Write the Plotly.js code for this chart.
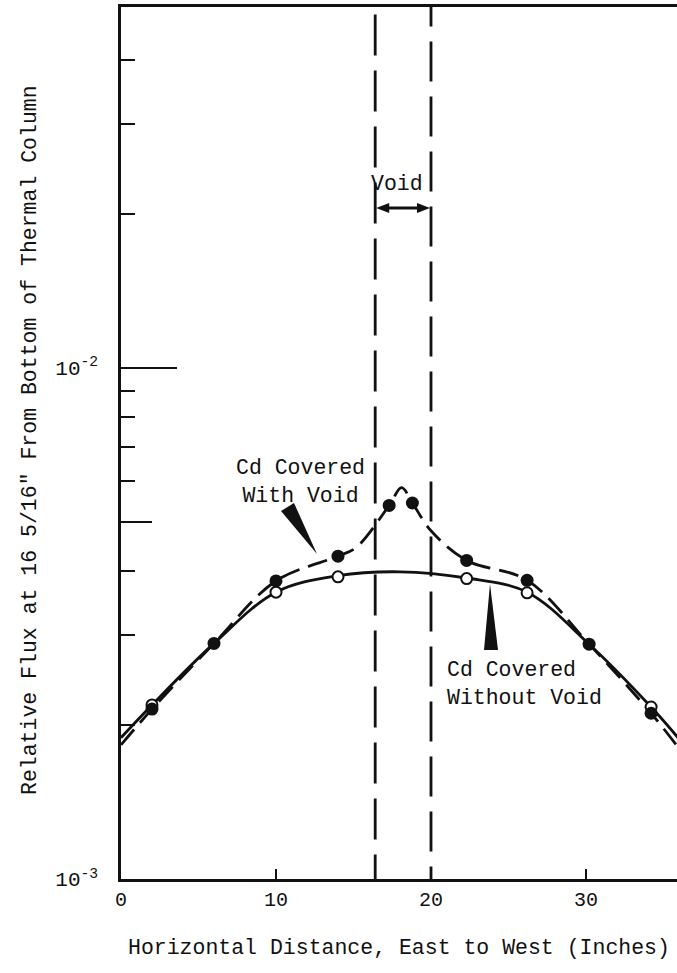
<!DOCTYPE html>
<html>
<head>
<meta charset="utf-8">
<script src="https://cdn.plot.ly/plotly-3.0.1.min.js"></script>
<style>html,body{margin:0;padding:0;background:#fff}</style>
</head>
<body>
<div id="chart" style="width:677px;height:973px"></div>
<script>
// Measured relative flux, Cd covered, with the void in place
const xWithVoid = [2, 6, 10, 14, 17.3, 18.8, 22.3, 26.2, 30.2, 34.2];
const fluxWithVoid = [2.15e-3, 2.89e-3, 3.83e-3, 4.28e-3, 5.38e-3, 5.44e-3, 4.20e-3, 3.84e-3, 2.88e-3, 2.11e-3];
// Measured relative flux, Cd covered, without the void
const xWithoutVoid = [2, 10, 14, 22.3, 26.2, 34.2];
const fluxWithoutVoid = [2.19e-3, 3.64e-3, 3.90e-3, 3.87e-3, 3.63e-3, 2.17e-3];
// Faired curves drawn through the measurements
const curveWithVoidX = [0, 2, 6, 10, 14, 15.2, 17.3, 18.1, 18.8, 20, 22.3, 26.2, 30.2, 34.2, 36];
const curveWithVoidY = [1.83e-3, 2.15e-3, 2.89e-3, 3.83e-3, 4.28e-3, 4.46e-3, 5.38e-3, 5.83e-3, 5.44e-3, 4.8e-3, 4.20e-3, 3.84e-3, 2.88e-3, 2.11e-3, 1.8e-3];
const curveWithoutVoidX = [0, 2, 6, 10, 14, 18, 22.3, 26.2, 30.2, 34.2, 36];
const curveWithoutVoidY = [1.89e-3, 2.19e-3, 2.89e-3, 3.64e-3, 3.92e-3, 3.99e-3, 3.88e-3, 3.64e-3, 2.88e-3, 2.17e-3, 1.88e-3];
// Edges of the void (inches)
const voidEdges = [16.4, 20.0];
// Axis ticks
const xTicks = [0, 10, 20, 30];
const xTickText = ['0', '10', '20', '30'];
const yMajor = [1e-3, 1e-2];
const yMajorText = ['10<sup>-3</sup>', '10<sup>-2</sup>'];
const yMinor = [2e-3, 3e-3, 4e-3, 6e-3, 7e-3, 8e-3, 9e-3, 2e-2, 3e-2, 4e-2];
const yHalf = [5e-3];

const INK = '#111';
const FONT = 'Liberation Mono, Courier New, monospace';

// plot area in page pixels
const L = 121, R = 677, T = 7, B = 879;
const px = v => (v - L) / (R - L);
const py = v => (B - v) / (B - T);
const yTop = -2 + (367.7 - T) / 511;

// dash list for a line drawn top-down: leading dash/gap, then a repeating dash/gap
function dashList(lead, leadGap, dash, gap) {
  const parts = [lead + 'px', leadGap + 'px'];
  let run = lead + leadGap;
  while (run < (B - T) + dash + gap) { parts.push(dash + 'px', gap + 'px'); run += dash + gap; }
  return parts.join(',');
}
const voidDash = [dashList(0, 7.5, 41, 15), dashList(19.5, 15, 40, 15)];

const traces = [
  {x: curveWithVoidX, y: curveWithVoidY, type: 'scatter', mode: 'lines',
   line: {color: INK, width: 2.8, dash: '20px,9px', shape: 'spline', smoothing: 1}, hoverinfo: 'skip'},
  {x: curveWithoutVoidX, y: curveWithoutVoidY, type: 'scatter', mode: 'lines',
   line: {color: INK, width: 2.8, shape: 'spline', smoothing: 1}, hoverinfo: 'skip'},
  {x: xWithoutVoid, y: fluxWithoutVoid, type: 'scatter', mode: 'markers',
   marker: {size: 11, color: '#fff', line: {color: INK, width: 2}}},
  {x: xWithVoid, y: fluxWithVoid, type: 'scatter', mode: 'markers',
   marker: {size: 13, color: INK, line: {color: INK, width: 0}}},
  // carries the medium tick at 5e-3
  {x: [null], y: [null], yaxis: 'y2', type: 'scatter', hoverinfo: 'skip'}
];

const shapes = voidEdges.map((e, i) => ({
  type: 'line', xref: 'x', yref: 'paper', x0: e, x1: e, y0: 1, y1: 0,
  line: {color: INK, width: 2.8, dash: voidDash[i]}
}));
// double-headed arrow spanning the void
const xl = L + voidEdges[0] * 15.5 + 1, xr = L + voidEdges[1] * 15.5 - 1, ya = 208;
shapes.push({type: 'line', xref: 'paper', yref: 'paper', x0: px(xl + 6), x1: px(xr - 6), y0: py(ya), y1: py(ya),
  line: {color: INK, width: 2.8}});
shapes.push({type: 'path', xref: 'paper', yref: 'paper',
  path: `M ${px(xl)},${py(ya)} L ${px(xl + 13)},${py(ya - 5)} L ${px(xl + 13)},${py(ya + 5)} Z`,
  fillcolor: INK, line: {width: 0}});
shapes.push({type: 'path', xref: 'paper', yref: 'paper',
  path: `M ${px(xr)},${py(ya)} L ${px(xr - 13)},${py(ya - 5)} L ${px(xr - 13)},${py(ya + 5)} Z`,
  fillcolor: INK, line: {width: 0}});
// pointer wedges from the labels to the curves
shapes.push({type: 'path', xref: 'paper', yref: 'paper',
  path: `M ${px(281)},${py(511)} L ${px(294)},${py(503)} L ${px(317)},${py(554)} Z`,
  fillcolor: INK, line: {width: 0}});
shapes.push({type: 'path', xref: 'paper', yref: 'paper',
  path: `M ${px(484)},${py(650)} L ${px(498)},${py(650)} L ${px(490)},${py(584)} Z`,
  fillcolor: INK, line: {width: 0}});

const LABEL = {size: 21.5, color: INK, family: FONT};
const annotations = [
  {text: 'Void', x: px(397), y: py(184), xref: 'paper', yref: 'paper', xanchor: 'center', yanchor: 'middle',
   showarrow: false, font: LABEL},
  {text: 'Cd Covered<br>With Void', x: px(300), y: py(482), xref: 'paper', yref: 'paper',
   xanchor: 'center', yanchor: 'middle', showarrow: false, align: 'center', font: LABEL},
  {text: 'Cd Covered<br>Without Void', x: px(445), y: py(684), xref: 'paper', yref: 'paper',
   xanchor: 'left', yanchor: 'middle', showarrow: false, align: 'left', font: LABEL},
  {text: 'Relative Flux at 16 5/16" From Bottom of Thermal Column', textangle: -90,
   x: px(30), y: py(440), xref: 'paper', yref: 'paper', xanchor: 'center', yanchor: 'middle',
   showarrow: false, font: LABEL},
  {text: 'Horizontal Distance, East to West (Inches)',
   x: px(399), y: py(948), xref: 'paper', yref: 'paper', xanchor: 'center', yanchor: 'middle',
   showarrow: false, font: LABEL}
];

const layout = {
  width: 677, height: 973,
  margin: {l: L, r: 677 - R, t: T, b: 973 - B, pad: 0},
  paper_bgcolor: '#fff', plot_bgcolor: '#fff',
  showlegend: false,
  font: {family: FONT, color: INK, size: 19},
  xaxis: {range: [0, (R - L) / 15.5], showgrid: false, zeroline: false,
    showline: true, linecolor: INK, linewidth: 2.6, mirror: true,
    tickmode: 'array', tickvals: xTicks, ticktext: xTickText,
    ticks: 'inside', ticklen: 10, tickwidth: 2, tickcolor: INK,
    tickfont: {size: 20, family: FONT, color: INK}},
  yaxis: {type: 'log', range: [-3, yTop], showgrid: false, zeroline: false,
    showline: true, linecolor: INK, linewidth: 2.6,
    tickmode: 'array', tickvals: yMajor, ticktext: yMajorText,
    ticks: 'inside', ticklen: 56, tickwidth: 2, tickcolor: INK, ticklabelstandoff: 16,
    tickfont: {size: 21, family: FONT, color: INK},
    minor: {tickmode: 'array', tickvals: yMinor, ticks: 'inside', ticklen: 14, tickwidth: 2, tickcolor: INK, showgrid: false}},
  yaxis2: {type: 'log', range: [-3, yTop], overlaying: 'y', side: 'left', anchor: 'x',
    showgrid: false, zeroline: false, showline: false, showticklabels: false,
    tickmode: 'array', tickvals: yHalf, ticks: 'inside', ticklen: 31, tickwidth: 2, tickcolor: INK},
  shapes: shapes,
  annotations: annotations
};

Plotly.newPlot('chart', traces, layout, {staticPlot: true, displayModeBar: false});
</script>
</body>
</html>
